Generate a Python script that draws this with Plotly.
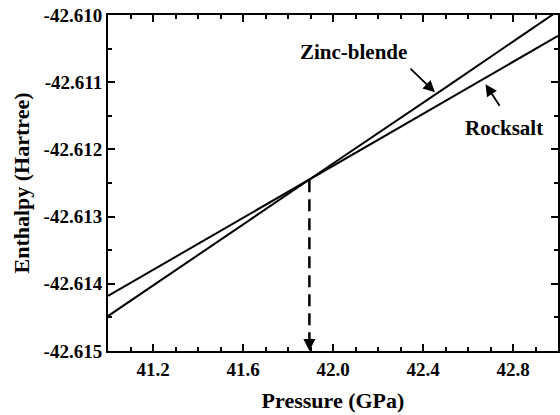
import plotly.graph_objects as go

pressure = [41.0, 41.5, 42.0, 42.5, 43.0]
zinc_blende = [-42.61448, -42.61334, -42.61221, -42.61108, -42.60994]
rocksalt = [-42.61418, -42.61321, -42.61225, -42.61128, -42.61031]
transition_p = 41.895
transition_h = -42.61246

x_tickvals = [41.2, 41.6, 42.0, 42.4, 42.8]
x_ticktext = ["41.2", "41.6", "42.0", "42.4", "42.8"]
y_tickvals = [-42.610, -42.611, -42.612, -42.613, -42.614, -42.615]
y_ticktext = ["-42.610", "-42.611", "-42.612", "-42.613", "-42.614", "-42.615"]

font_family = "Liberation Serif"

fig = go.Figure()
fig.add_trace(go.Scatter(x=pressure, y=zinc_blende, mode="lines",
                         line=dict(color="black", width=2), name="Zinc-blende"))
fig.add_trace(go.Scatter(x=pressure, y=rocksalt, mode="lines",
                         line=dict(color="black", width=2), name="Rocksalt"))
# dashed drop line
fig.add_trace(go.Scatter(x=[transition_p, transition_p], y=[transition_h, -42.61486], mode="lines",
                         line=dict(color="black", width=2.5, dash="12px,7px"), cliponaxis=False))

fig.add_annotation(x=transition_p, y=-42.615, xref="x", yref="y", ax=0, ay=-14,
                   showarrow=True, arrowhead=2, arrowsize=1.2, arrowwidth=2, arrowcolor="black", text="")

fig.add_annotation(x=42.453, y=-42.61115, xref="x", yref="y", ax=-26, ay=-25,
                   showarrow=True, arrowhead=2, arrowsize=1.3, arrowwidth=1.8, arrowcolor="black", text="")
fig.add_annotation(x=42.678, y=-42.61103, xref="x", yref="y", ax=15, ay=23,
                   showarrow=True, arrowhead=2, arrowsize=1.3, arrowwidth=1.8, arrowcolor="black", text="")
fig.add_annotation(x=42.09, y=-42.61055, xref="x", yref="y", text="Zinc-blende",
                   showarrow=False, font=dict(family=font_family, size=21, color="black", weight="bold"))
fig.add_annotation(x=42.76, y=-42.61168, xref="x", yref="y", text="Rocksalt",
                   showarrow=False, font=dict(family=font_family, size=21, color="black", weight="bold"))

axis_common = dict(showline=True, linewidth=2, linecolor="black", mirror="ticks",
                   ticks="inside", ticklen=7, tickwidth=2, tickcolor="black",
                   showgrid=False, zeroline=False,
                   tickfont=dict(family=font_family, size=19, color="black", weight="bold"))

fig.update_xaxes(range=[41.0, 43.0], tickmode="array", tickvals=x_tickvals, ticktext=x_ticktext,
                 minor=dict(dtick=0.1, tick0=41.0, ticks="inside", ticklen=4, tickwidth=2, tickcolor="black"),
                 title=dict(text="Pressure (GPa)", font=dict(family=font_family, size=22, color="black", weight="bold"), standoff=14),
                 **axis_common)
fig.update_yaxes(range=[-42.615, -42.610], tickmode="array", tickvals=y_tickvals, ticktext=y_ticktext,
                 minor=dict(dtick=0.0005, tick0=-42.615, ticks="inside", ticklen=4, tickwidth=2, tickcolor="black"),
                 title=dict(text="Enthalpy (Hartree)", font=dict(family=font_family, size=22, color="black", weight="bold"), standoff=8),
                 **axis_common)
fig.update_layout(width=560, height=415, showlegend=False,
                  margin=dict(l=108, r=0, t=15, b=64),
                  plot_bgcolor="white", paper_bgcolor="white")

fig.write_html("out.html")
